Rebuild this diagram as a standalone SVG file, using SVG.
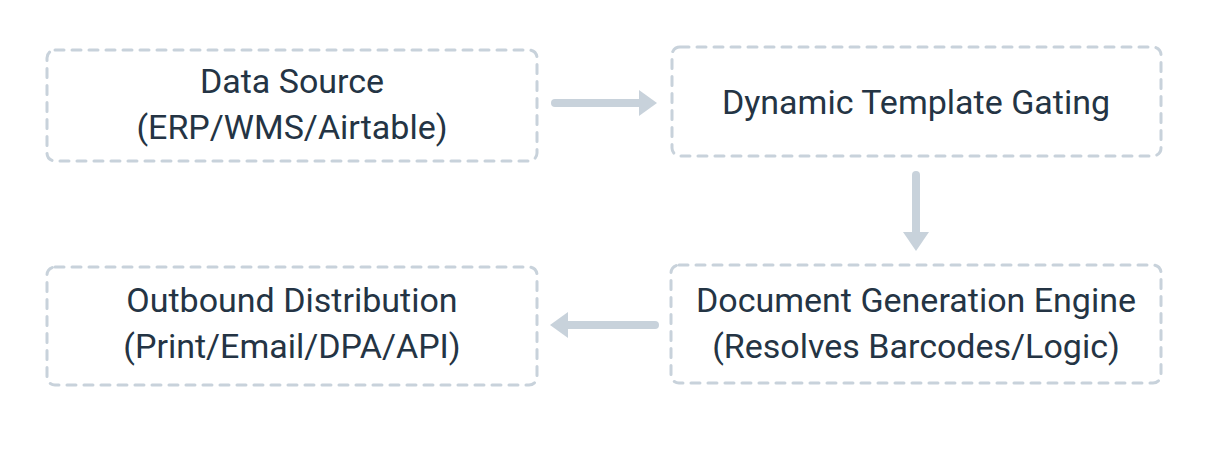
<svg xmlns="http://www.w3.org/2000/svg" width="1209" height="457" viewBox="0 0 1209 457">
<style>
.box{fill:none;stroke:#c8d2db;stroke-width:3;stroke-dasharray:9 8;stroke-linecap:round}
.lbl{font-family:Roboto,"Liberation Sans",sans-serif;font-size:34px;font-weight:400;fill:#243444;text-anchor:middle}
.conn{stroke:#c8d2db;stroke-width:8;stroke-linecap:round;fill:none}
.head{fill:#c8d2db}
</style>
<rect width="1209" height="457" fill="#ffffff"/>
<g id="node-data-source">
<rect class="box" x="47" y="50" width="490" height="111" rx="8"/>
<text class="lbl" x="292" y="93">Data Source</text>
<text class="lbl" x="292" y="139">(ERP/WMS/Airtable)</text>
</g>
<g id="node-template-gating">
<rect class="box" x="672" y="47" width="489" height="109" rx="8"/>
<text class="lbl" x="916" y="114">Dynamic Template Gating</text>
</g>
<g id="node-generation-engine">
<rect class="box" x="671" y="265" width="490" height="118" rx="8"/>
<text class="lbl" x="916" y="312">Document Generation Engine</text>
<text class="lbl" x="916" y="358">(Resolves Barcodes/Logic)</text>
</g>
<g id="node-outbound">
<rect class="box" x="47" y="267" width="490" height="118" rx="8"/>
<text class="lbl" x="292" y="312">Outbound Distribution</text>
<text class="lbl" x="292" y="358">(Print/Email/DPA/API)</text>
</g>
<g id="connectors">
<line class="conn" x1="555" y1="103" x2="641" y2="103"/>
<polygon class="head" points="639,90 657,103 639,116"/>
<line class="conn" x1="916" y1="175" x2="916" y2="234"/>
<polygon class="head" points="903,232 916,251 929,232"/>
<line class="conn" x1="655" y1="325" x2="567" y2="325"/>
<polygon class="head" points="568,312 550,325 568,338"/>
</g>
</svg>
